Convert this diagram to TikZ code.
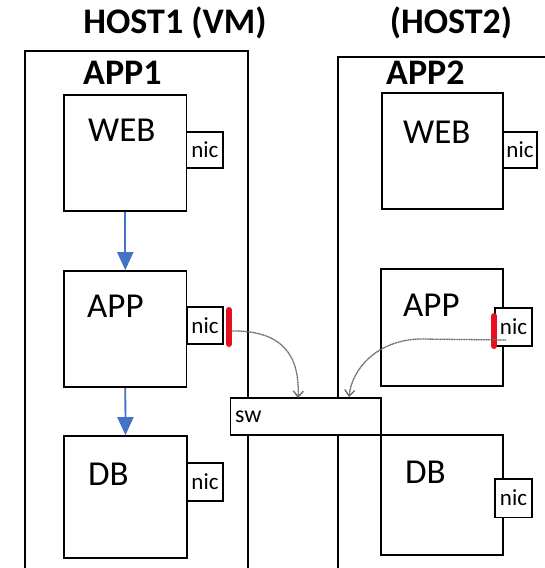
\documentclass[tikz,border=0pt]{standalone}
\usepackage{fontspec}
\setmainfont{Carlito}
\usetikzlibrary{arrows.meta}
\definecolor{flowblue}{HTML}{4472C4}
\definecolor{linkred}{HTML}{E8101E}
\tikzset{
  hostbox/.style={draw=black, line width=1.6pt},
  tier/.style={draw=black, fill=white, line width=1.6pt, inner sep=0pt},
  nicbox/.style={draw=black, fill=white, line width=1.5pt, inner sep=0pt,
    font=\fontsize{23}{26}\selectfont},
  swbox/.style={draw=black, fill=white, line width=1.6pt, inner sep=0pt},
  title/.style={font=\bfseries\fontsize{36}{40}\selectfont, inner sep=0pt},
  tiername/.style={font=\fontsize{35}{40}\selectfont, inner sep=0pt, anchor=west},
  swname/.style={font=\fontsize{24}{28}\selectfont, inner sep=0pt, anchor=west},
  flow/.style={draw=flowblue, line width=1.8pt, -{Triangle[length=18pt,width=16pt]}},
  port/.style={draw=linkred, line width=6pt, line cap=round},
  link/.style={draw=black!60, line width=1.3pt, dash pattern=on 1.2pt off 0.5pt,
    -{Straight Barb[length=6pt,width=10pt]}}
}
\begin{document}
\begin{tikzpicture}[x=1pt,y=-1pt]
\useasboundingbox (0,0) rectangle (545,568);
\clip (0,0) rectangle (545,568);

% hosts
\draw[hostbox] (25,51) rectangle (248,575);
\draw[hostbox] (338,57) rectangle (560,580);
\node[title] (h1) at (175,23) {HOST1 (VM)};
\node[title] (h2) at (451,23) {(HOST2)};
\node[title, anchor=west] (a1) at (83,73) {APP1};
\node[title, anchor=west] (a2) at (386,73) {APP2};

% host 1 tiers
\node[tier, minimum width=122.7pt, minimum height=116pt] (web1) at (125.3,153) {};
\node[tier, minimum width=122.7pt, minimum height=116pt] (app1) at (125.3,329) {};
\node[tier, minimum width=123pt, minimum height=122pt] (db1) at (125.5,497) {};
\node[tiername] (tw1) at (88,130) {WEB};
\node[tiername] (ta1) at (87,306) {APP};
\node[tiername] (td1) at (88,474) {DB};
\node[nicbox, minimum width=36.3pt, minimum height=36pt] (nw1) at (204.8,150) {nic};
\node[nicbox, minimum width=36pt, minimum height=37pt] (na1) at (205,325.5) {nic};
\node[nicbox, minimum width=36pt, minimum height=38pt] (nd1) at (205,482) {nic};

% host 2 tiers
\node[tier, minimum width=121pt, minimum height=116pt] (web2) at (442.5,151) {};
\node[tier, minimum width=122pt, minimum height=117pt] (app2) at (442,327.5) {};
\node[tier, minimum width=122pt, minimum height=120pt] (db2) at (442,495) {};
\node[tiername] (tw2) at (403,132) {WEB};
\node[tiername] (ta2) at (403,305) {APP};
\node[tiername] (td2) at (405,472) {DB};
\node[nicbox, minimum width=34pt, minimum height=36pt] (nw2) at (520,150) {nic};
\node[nicbox, minimum width=37pt, minimum height=38pt] (na2) at (513.5,327) {nic};
\node[nicbox, minimum width=37pt, minimum height=38.5pt] (nd2) at (513.5,498) {nic};

% call flow inside APP1
\draw[flow] (web1.south) -- (app1.north);
\draw[flow] (app1.south) -- (db1.north);

% switch
\node[swbox, minimum width=150.5pt, minimum height=37pt] (sw) at (305.75,416.5) {};
\node[swname] (swt) at (235,417) {sw};

% ports
\coordinate (p1a) at (229,310);
\coordinate (p1b) at (229,344);
\coordinate (p2a) at (494,316);
\coordinate (p2b) at (494,346);
\draw[port] (p1a) -- (p1b);
\draw[port] (p2a) -- (p2b);

% links from the ports to the switch
\coordinate (l1s) at (231,331);
\coordinate (l1e) at (298,398);
\coordinate (l2s) at (506,340);
\coordinate (l2m) at (420,339);
\coordinate (l2e) at (349,397);
\draw[link] (l1s) .. controls (282,330) and (300,355) .. (l1e);
\draw[link] (l2s) -- (l2m) .. controls (378,340) and (352,368) .. (l2e);
\end{tikzpicture}
\end{document}
